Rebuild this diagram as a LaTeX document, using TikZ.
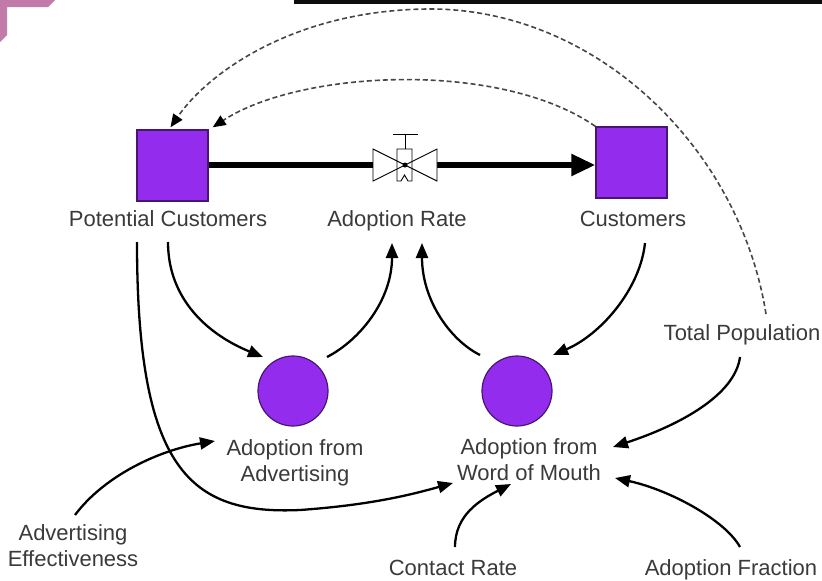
\documentclass[tikz,border=0pt]{standalone}
\usepackage{fontspec}
\setmainfont{Liberation Sans}
\usetikzlibrary{arrows.meta,calc}

\definecolor{stockfill}{RGB}{148,44,238}
\definecolor{stockedge}{RGB}{72,22,112}
\definecolor{labtext}{RGB}{58,58,58}
\definecolor{dashgray}{RGB}{70,70,70}
\definecolor{cornerpink}{RGB}{192,123,168}
\definecolor{topbar}{RGB}{12,14,16}

\begin{document}
\begin{tikzpicture}[x=1pt,y=-1pt,
  lab/.style={font=\fontsize{22}{26}\selectfont, text=labtext, inner sep=0pt,
              text height=16pt, text depth=0pt},
  lab2/.style={lab, align=center, text height=42pt, text depth=0pt},
  stockbox/.style={draw=stockedge, fill=stockfill, line width=1.4pt,
                   minimum width=71pt, minimum height=71pt, inner sep=0pt},
  auxcirc/.style={circle, draw=stockedge, fill=stockfill, line width=1.2pt,
                  minimum size=70pt, inner sep=0pt},
  link/.style={line width=2.3pt, -{Triangle[length=15pt,width=12pt]}},
  dlink/.style={draw=dashgray, line width=1.6pt, dash pattern=on 5pt off 3pt,
                -{Triangle[length=13pt,width=11pt,color=black]}},
  pipe/.style={line width=5.5pt},
  valveline/.style={draw=black, line width=0.9pt}
]
\useasboundingbox (0,0) rectangle (822,581);

% frame fragments along the top edge
\fill[cornerpink] (0,0) -- (55,0) -- (48,7) -- (7,7) -- (7,35) -- (0,42) -- cycle;
\fill[topbar] (294,0) rectangle (822,4);

% stocks
\node[stockbox] (pc) at (172.5,165.5) {};
\node[stockbox] (cu) at (631.5,162.5) {};

% flow valve
\node[minimum width=64pt, minimum height=32pt, inner sep=0pt] (valve) at (405,165) {};

% auxiliaries
\node[auxcirc] (adv) at (293,391) {};
\node[auxcirc] (wom) at (517,391) {};

% labels
\node[lab] (pcl) at (168,218) {Potential Customers};
\node[lab] (arl) at (397,218) {Adoption Rate};
\node[lab] (cul) at (633,218) {Customers};
\node[lab] (tpl) at (742,332) {Total Population};
\node[lab2] (advl) at (295,460) {Adoption from\\Advertising};
\node[lab2] (woml) at (529,459) {Adoption from\\Word of Mouth};
\node[lab2] (ael) at (73,545) {Advertising\\Effectiveness};
\node[lab] (crl) at (453,567) {Contact Rate};
\node[lab] (afl) at (731,567) {Adoption Fraction};

% pipe of the flow
\draw[pipe] (pc.east |- valve) -- (valve.west);
\draw[pipe, -{Triangle[length=24pt,width=21pt]}] (valve.east) -- (valve.east -| cu.west);

\begin{scope}[shift={(valve.center)}]
  \filldraw[valveline, fill=white] (-32,-16) -- (-32,16) -- (0,0) -- cycle;
  \filldraw[valveline, fill=white] (32,-16) -- (32,16) -- (0,0) -- cycle;
  \draw[valveline] (-8,-16) -- (7,-16) -- (7,16) -- (3,16) -- (-0.5,10) -- (-4,16) -- (-8,16) -- cycle;
  \draw[valveline] (0,-16) -- (0,-31);
  \draw[valveline] (-12,-31) -- (13,-31);
  \fill (0,0) circle (2.5pt);
\end{scope}

% information links
\draw[link] ($(pcl.center)+(0,24)$) .. controls (168,300) and (209,335) .. ($(adv.center)+(-30,-34)$);
\draw[link] ($(adv.center)+(34,-34)$) .. controls (360,340) and (392,300) .. ($(arl.center)+(-5,25)$);
\draw[link] ($(wom.center)+(-37,-36)$) .. controls (450,340) and (422,300) .. ($(arl.center)+(25,25)$);
\draw[link] ($(cul.center)+(12,25)$) .. controls (640,290) and (600,335) .. ($(wom.center)+(36,-36)$);
\draw[link] ($(pcl.center)+(-31,24)$) .. controls (137,470) and (190,515) .. (300,510)
            .. controls (370,505) and (410,495) .. ($(woml.center)+(-76,24)$);
\draw[link] ($(ael.center)+(2,-30)$) .. controls (105,475) and (160,450) .. ($(advl.center)+(-80,-19)$);
\draw[link] ($(crl.center)+(2,-20)$) .. controls (455,515) and (480,500) .. ($(woml.center)+(-18,25)$);
\draw[link] ($(afl.center)+(9,-20)$) .. controls (725,520) and (670,490) .. ($(woml.center)+(86,19)$);
\draw[link] ($(tpl.center)+(-2,25)$) .. controls (735,395) and (680,425) .. ($(woml.center)+(84,-12)$);

% dashed links back to the first stock
\draw[dlink] ($(tpl.center)+(24,-18)$) .. controls (740,150) and (600,12) .. (435,9)
             .. controls (300,8) and (210,70) .. ($(pc.north)+(-2,-2)$);
\draw[dlink] (cu.north west) .. controls (500,60) and (300,70) .. ($(pc.north east)+(4,-2)$);
\end{tikzpicture}
\end{document}
